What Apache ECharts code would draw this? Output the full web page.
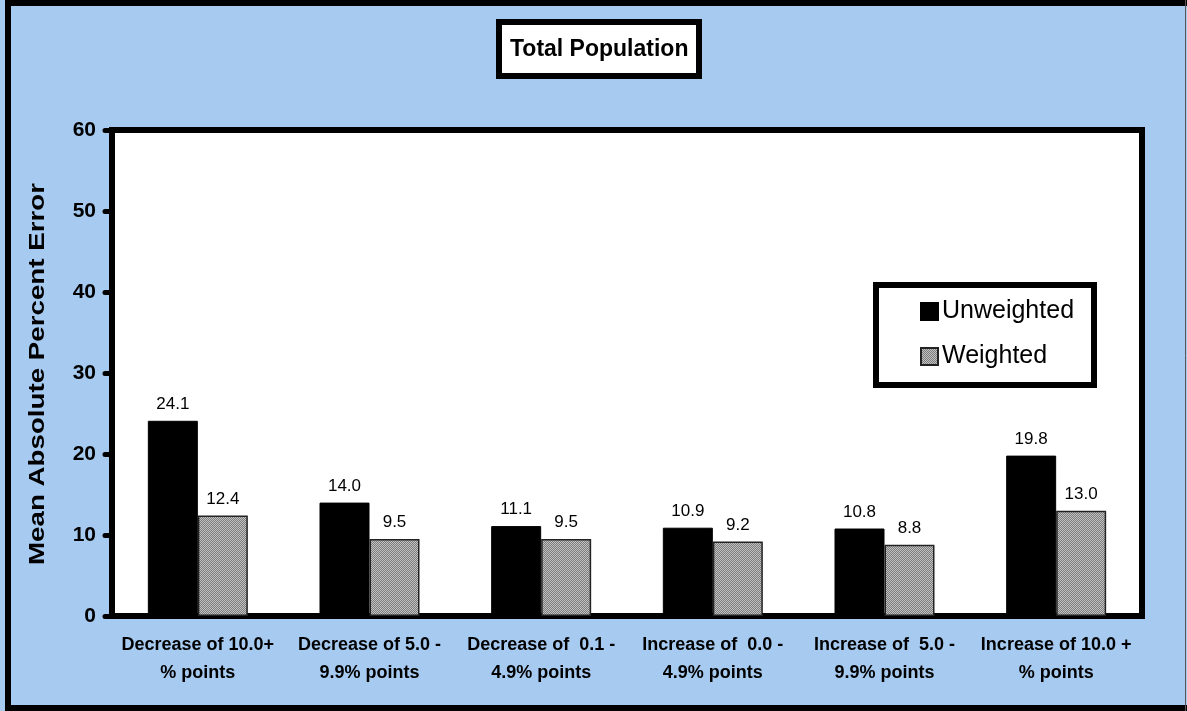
<!DOCTYPE html>
<html>
<head>
<meta charset="utf-8">
<script src="https://cdn.jsdelivr.net/npm/echarts@6/dist/echarts.min.js"></script>
<style>html,body{margin:0;padding:0;background:#a6caf0;}#c{width:1187px;height:711px;}</style>
</head>
<body>
<div id="c"></div>
<script>
const categories = ["Decrease of 10.0+\n% points", "Decrease of 5.0 -\n9.9% points", "Decrease of  0.1 -\n4.9% points", "Increase of  0.0 -\n4.9% points", "Increase of  5.0 -\n9.9% points", "Increase of 10.0 +\n% points"];
const unweighted = [24.1, 14.0, 11.1, 10.9, 10.8, 19.8];
const weighted = [12.4, 9.5, 9.5, 9.2, 8.8, 13.0];
const seriesNames = ["Unweighted", "Weighted"];
const titleText = "Total Population";
const yAxisTitle = "Mean Absolute Percent Error";

function makePattern() {
  const cv = document.createElement('canvas');
  cv.width = 4; cv.height = 4;
  const g = cv.getContext('2d');
  g.fillStyle = '#c2c2c2';
  g.fillRect(0, 0, 4, 4);
  g.fillStyle = '#7c7c7c';
  for (let i = 0; i < 4; i++) { g.fillRect(i, 3 - i, 1, 1); g.fillRect(i, (5 - i) % 4, 1, 1); }
  return cv;
}
const pat = { image: makePattern(), repeat: 'repeat' };
const FONT = 'Liberation Sans, Arial, sans-serif';

const chart = echarts.init(document.getElementById('c'), null, { renderer: 'canvas' });
chart.setOption({
  backgroundColor: '#a6caf0',
  animation: false,
  textStyle: { fontFamily: FONT },
  graphic: [
    { type: 'rect', shape: { x: 8, y: 3, width: 1192, height: 705 }, style: { fill: 'none', stroke: '#000', lineWidth: 6 }, z: 10 },
    { type: 'line', shape: { x1: 1185.5, y1: 0, x2: 1185.5, y2: 711 }, style: { stroke: '#555', lineWidth: 1 }, z: 10 },
    { type: 'rect', shape: { x: 876, y: 285, width: 218, height: 100 }, style: { fill: '#fff', stroke: '#000', lineWidth: 6 }, z: 5 },
    { type: 'text', x: 38, y: 374, rotation: Math.PI / 2, scaleX: 1.26, z: 10,
      style: { text: yAxisTitle, fontSize: 22, fontWeight: 'bold', fill: '#000', align: 'center', verticalAlign: 'middle', fontFamily: FONT } }
  ],
  title: {
    text: titleText,
    left: 499,
    top: 22,
    backgroundColor: '#fff',
    borderColor: '#000',
    borderWidth: 6,
    padding: [16, 11, 15, 11],
    textStyle: { fontSize: 23, fontWeight: 'bold', color: '#000', fontFamily: FONT }
  },
  legend: {
    data: seriesNames,
    orient: 'vertical',
    left: 915,
    top: 294,
    itemWidth: 17,
    itemHeight: 17,
    itemGap: 20,
    icon: 'rect',
    z: 20,
    textStyle: { fontSize: 25, color: '#000', padding: [0, 0, 0, -1] }
  },
  grid: {
    left: 112, right: 45, top: 130, bottom: 95,
    show: true, backgroundColor: '#fff', borderColor: '#000', borderWidth: 6
  },
  xAxis: {
    type: 'category',
    data: categories,
    axisLine: { show: true, lineStyle: { color: '#000', width: 6 } },
    axisTick: { show: false },
    axisLabel: { color: '#000', fontSize: 18, fontWeight: 'bold', lineHeight: 28, margin: 15, interval: 0 }
  },
  yAxis: {
    type: 'value',
    min: 0, max: 60, interval: 10,
    axisLine: { show: true, lineStyle: { color: '#000', width: 6 } },
    axisTick: { show: true, length: 7, lineStyle: { color: '#000', width: 5, cap: 'round' } },
    axisLabel: { color: '#000', fontSize: 21, fontWeight: 'bold', margin: 16 },
    splitLine: { show: false }
  },
  series: [
    {
      name: seriesNames[0], type: 'bar', data: unweighted,
      barWidth: 50, barGap: '0%',
      itemStyle: { color: '#000', borderColor: '#000', borderWidth: 1 },
      label: { show: true, position: 'top', distance: 8, fontSize: 17, color: '#000', formatter: p => p.value.toFixed(1) }
    },
    {
      name: seriesNames[1], type: 'bar', data: weighted,
      barWidth: 50,
      itemStyle: { color: pat, borderColor: '#222', borderWidth: 1.5 },
      label: { show: true, position: 'top', distance: 8, fontSize: 17, color: '#000', formatter: p => p.value.toFixed(1) }
    }
  ]
});
</script>
</body>
</html>
